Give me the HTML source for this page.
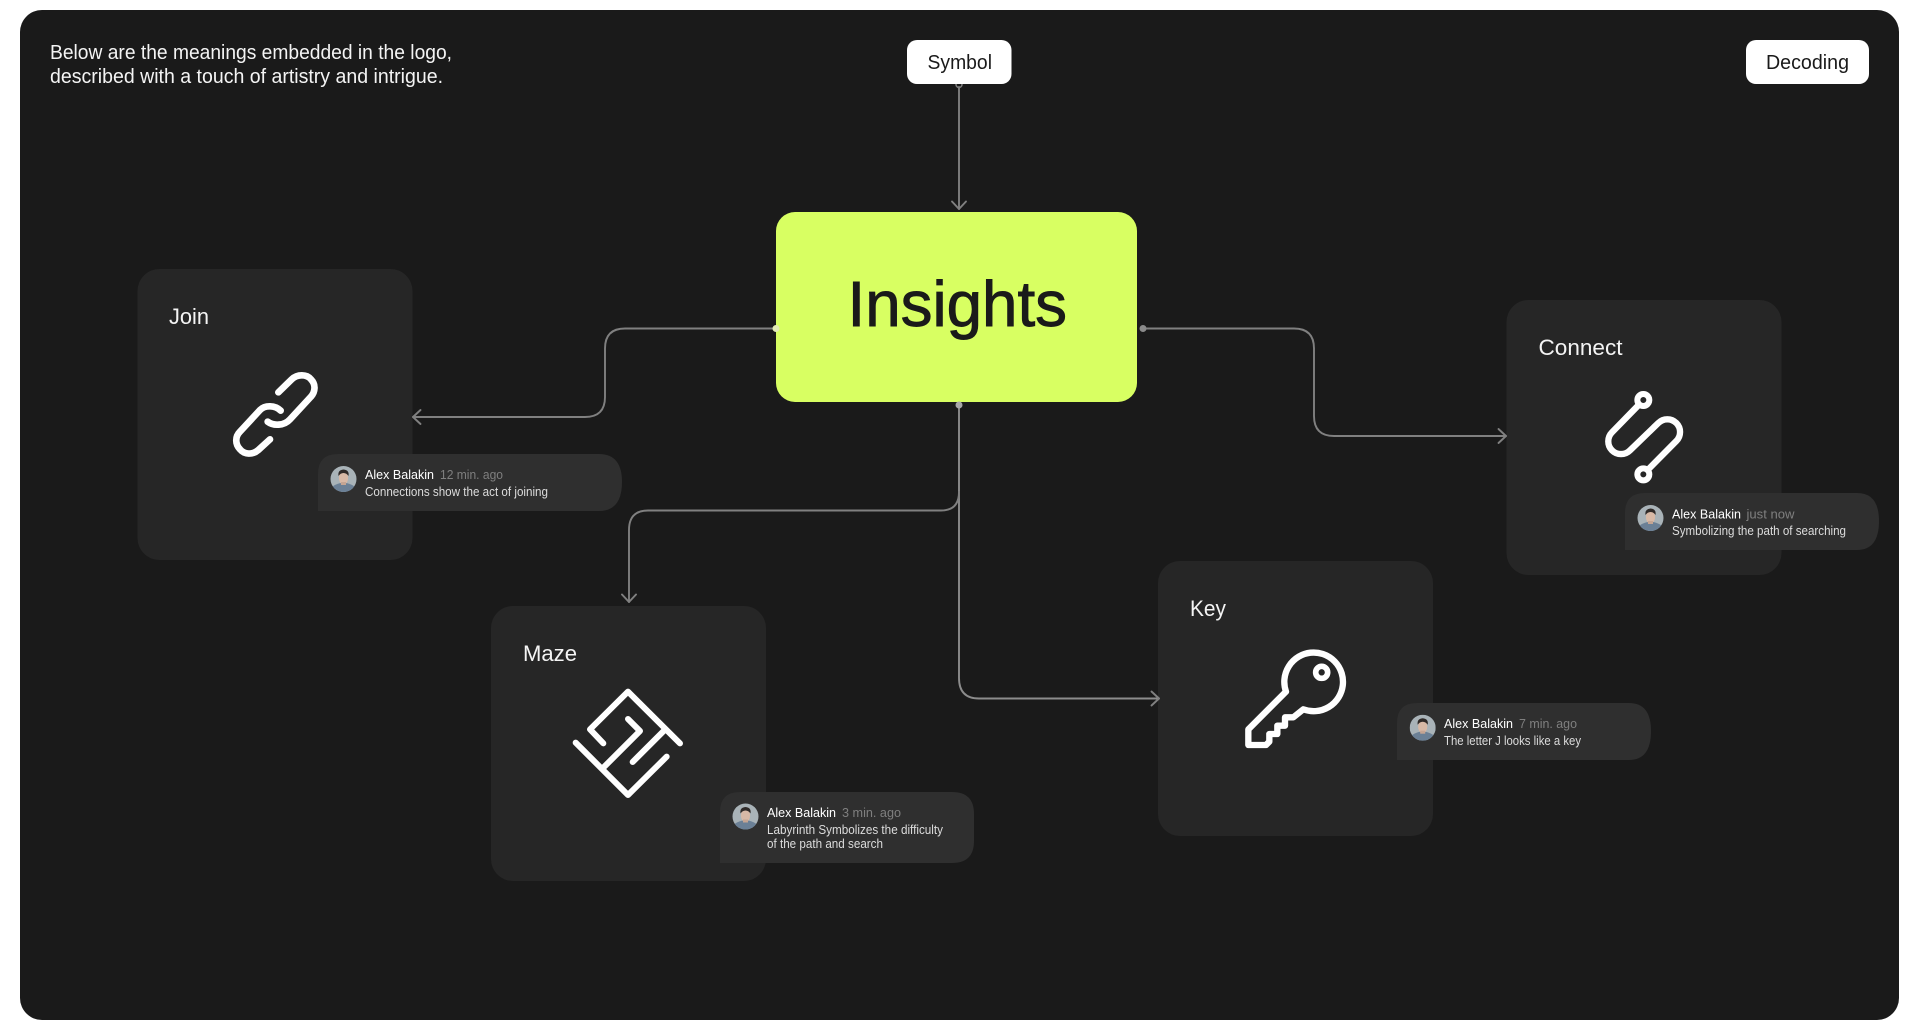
<!DOCTYPE html>
<html lang="en">
<head>
<meta charset="utf-8">
<title>Insights diagram</title>
<style>
html,body{margin:0;padding:0;background:#fff;width:1920px;height:1030px;overflow:hidden}
svg{display:block}
text{font-family:"Liberation Sans",sans-serif}
.lbl{font-size:22px;fill:#f4f4f4}
.intro{font-size:20px;fill:#f4f4f4}
.btn{font-size:20px;fill:#1a1a1a}
.name{font-size:13px;fill:#fff}
.time{font-size:13px;fill:#7f7f7f}
.body{font-size:12.5px;fill:#dcdcdc}
.conn{fill:none;stroke:#808080;stroke-width:1.9;stroke-linecap:round;stroke-linejoin:round}
.ico{fill:none;stroke:#fff;stroke-linecap:round;stroke-linejoin:round}
</style>
</head>
<body>
<svg width="1920" height="1030" viewBox="0 0 1920 1030" xmlns="http://www.w3.org/2000/svg">
<defs>
  <clipPath id="av"><circle cx="0" cy="0" r="13"/></clipPath>
  <g id="avatar" clip-path="url(#av)">
    <rect x="-13" y="-13" width="26" height="26" fill="#a9b3b8"/>
    <path d="M-13 13 V9 Q-8 5 -3 4 H3 Q8 5 13 9 V13Z" fill="#6b8096"/>
    <ellipse cx="0" cy="-1" rx="4.600" ry="6.500" fill="#d8b9a6"/>
    <path d="M-5 -3 Q-6 -9 0 -9.500 Q6 -9 5 -3 Q3 -6 0 -6 Q-3 -6 -5 -3Z" fill="#2f2a28"/>
    <rect x="-2.500" y="3" width="5" height="3" fill="#c5a593"/>
  </g>
</defs>

<!-- panel -->
<rect x="20" y="10" width="1879" height="1010" rx="22" fill="#1a1a1a"/>

<!-- intro -->
<text class="intro" x="50" y="59" textLength="402" lengthAdjust="spacingAndGlyphs">Below are the meanings embedded in the logo,</text>
<text class="intro" x="50" y="83" textLength="393" lengthAdjust="spacingAndGlyphs">described with a touch of artistry and intrigue.</text>

<!-- cards -->
<rect x="137.500" y="269" width="275" height="291" rx="22" fill="#262626"/>
<rect x="491" y="606" width="275" height="275" rx="22" fill="#262626"/>
<rect x="1158" y="561" width="275" height="275" rx="22" fill="#262626"/>
<rect x="1506.500" y="300" width="275" height="275" rx="22" fill="#262626"/>

<text class="lbl" x="169" y="324" textLength="40" lengthAdjust="spacingAndGlyphs">Join</text>
<text class="lbl" x="523" y="661" textLength="54" lengthAdjust="spacingAndGlyphs">Maze</text>
<text class="lbl" x="1190" y="616" textLength="36" lengthAdjust="spacingAndGlyphs">Key</text>
<text class="lbl" x="1538.500" y="355" textLength="84" lengthAdjust="spacingAndGlyphs">Connect</text>

<!-- connectors -->
<circle cx="959" cy="84.500" r="3" fill="none" stroke="#808080" stroke-width="1.500"/>
<path class="conn" d="M959 87 V209"/>
<path class="conn" d="M952 201.500 L959 209 L966 201.500"/>

<path class="conn" d="M776 328.500 H625 Q605 328.500 605 348.500 V397 Q605 417 585 417 H413"/>
<path class="conn" d="M420.500 410 L413 417 L420.500 424"/>

<path class="conn" d="M1143 328.500 H1294 Q1314 328.500 1314 348.500 V416 Q1314 436 1334 436 H1506"/>
<path class="conn" d="M1498.500 429 L1506 436 L1498.500 443"/>

<path class="conn" d="M959 405 V678 Q959 698.500 979 698.500 H1159" style="stroke:#8c8c8c"/>
<path class="conn" d="M1151.500 691.500 L1159 698.500 L1151.500 705.500"/>

<path class="conn" d="M959 492 Q959 510.500 941 510.500 H648 Q629 510.500 629 530 V602"/>
<path class="conn" d="M622 594.500 L629 602 L636 594.500"/>

<!-- insights -->
<rect x="776" y="212" width="361" height="190" rx="19" fill="#d8ff62"/>
<text x="847.500" y="326" font-size="64" fill="#1a1a1a" stroke="#1a1a1a" stroke-width="0.900" textLength="219.500" lengthAdjust="spacingAndGlyphs">Insights</text>

<circle cx="776" cy="328.500" r="3.500" fill="#e3ecb5"/>
<circle cx="1143" cy="328.500" r="3.500" fill="#8a8a8a"/>
<circle cx="959" cy="405" r="3.500" fill="#a8a8a8"/>

<!-- top buttons -->
<rect x="907" y="40" width="104.500" height="44" rx="10" fill="#fff"/>
<text class="btn" x="927.500" y="69" textLength="64.500" lengthAdjust="spacingAndGlyphs">Symbol</text>
<rect x="1746" y="40" width="123" height="44" rx="10" fill="#fff"/>
<text class="btn" x="1766" y="69" textLength="83" lengthAdjust="spacingAndGlyphs">Decoding</text>

<!-- link icon -->
<g transform="translate(210 350) scale(.33333)">
  <path class="ico" stroke-width="20" d="M205 127 L245 88 C262 72 290 72 303 88 C318 103 316 125 303 140 L240 208 C222 228 190 228 173 215"/>
  <path class="ico" stroke-width="20" d="M180 268 L145 300 C128 315 103 314 90 298 C75 282 75 260 90 245 L150 180 C165 165 195 165 212 182"/>
</g>

<!-- maze icon -->
<g transform="translate(560 670) scale(.33333)">
  <path class="ico" stroke-width="18" d="M130 220 L90 178 L204 65 L360 220"/>
  <path class="ico" stroke-width="18" d="M47 218 L204 375 L320 260"/>
  <path class="ico" stroke-width="18" d="M204 147 L240 183 L133 290"/>
  <path class="ico" stroke-width="18" d="M218 276 L314 180"/>
</g>

<!-- key icon -->
<g transform="translate(1230 630) scale(.33333)">
  <path class="ico" stroke-width="19" d="M168 185 L55 298 V345 H108 L118 335 V312 H142 V287 H165 V262 H190 L220 238 A88 88 0 1 0 168 185 Z"/>
  <circle class="ico" stroke-width="17" cx="275" cy="127" r="18"/>
</g>

<!-- connect icon -->
<g transform="translate(1590 380) scale(.33333)">
  <path class="ico" stroke-width="19" d="M143 78 L66 157 A38 38 0 0 0 120 211 L205 129 A38 38 0 0 1 259 183 L178 265"/>
  <circle class="ico" stroke-width="18" cx="160" cy="60" r="18"/>
  <circle class="ico" stroke-width="18" cx="160" cy="283" r="18"/>
</g>

<!-- bubble: join -->
<path d="M318 474 Q318 454 338 454 H599 Q622 454 622 482 Q622 511 599 511 H318Z" fill="#2f2f2f"/>
<use href="#avatar" transform="translate(343.500 479)"/>
<text class="name" x="365" y="479" textLength="69" lengthAdjust="spacingAndGlyphs">Alex Balakin</text>
<text class="time" x="440" y="479" textLength="63" lengthAdjust="spacingAndGlyphs">12 min. ago</text>
<text class="body" x="365" y="496" textLength="183" lengthAdjust="spacingAndGlyphs">Connections show the act of joining</text>

<!-- bubble: maze -->
<path d="M720 812 Q720 792 740 792 H952 Q974 792 974 814 V841 Q974 863 952 863 H720Z" fill="#2f2f2f"/>
<use href="#avatar" transform="translate(745.500 816.500)"/>
<text class="name" x="767" y="817" textLength="69" lengthAdjust="spacingAndGlyphs">Alex Balakin</text>
<text class="time" x="842" y="817" textLength="59" lengthAdjust="spacingAndGlyphs">3 min. ago</text>
<text class="body" x="767" y="834" textLength="176" lengthAdjust="spacingAndGlyphs">Labyrinth Symbolizes the difficulty</text>
<text class="body" x="767" y="848" textLength="116" lengthAdjust="spacingAndGlyphs">of the path and search</text>

<!-- bubble: key -->
<path d="M1397 723 Q1397 703 1417 703 H1629 Q1651 703 1651 731 Q1651 760 1629 760 H1397Z" fill="#2f2f2f"/>
<use href="#avatar" transform="translate(1422.700 727.700)"/>
<text class="name" x="1444" y="728" textLength="69" lengthAdjust="spacingAndGlyphs">Alex Balakin</text>
<text class="time" x="1519" y="728" textLength="58" lengthAdjust="spacingAndGlyphs">7 min. ago</text>
<text class="body" x="1444" y="745" textLength="137" lengthAdjust="spacingAndGlyphs">The letter J looks like a key</text>

<!-- bubble: connect -->
<path d="M1625 513 Q1625 493 1645 493 H1857 Q1879 493 1879 521 Q1879 550 1857 550 H1625Z" fill="#2f2f2f"/>
<use href="#avatar" transform="translate(1650.500 518)"/>
<text class="name" x="1672" y="518.500" textLength="69" lengthAdjust="spacingAndGlyphs">Alex Balakin</text>
<text class="time" x="1746.500" y="518.500" textLength="48" lengthAdjust="spacingAndGlyphs">just now</text>
<text class="body" x="1672" y="535" textLength="174" lengthAdjust="spacingAndGlyphs">Symbolizing the path of searching</text>
</svg>
</body>
</html>
